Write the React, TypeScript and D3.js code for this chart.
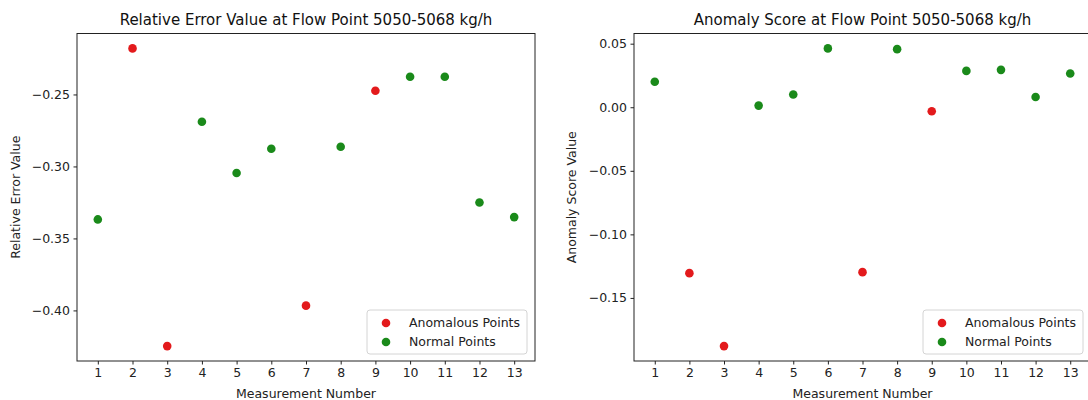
import React, { useRef, useEffect } from 'react';
import * as d3 from 'd3';

const measurements = [1, 2, 3, 4, 5, 6, 7, 8, 9, 10, 11, 12, 13];
const relativeError = [-0.3368, -0.218, -0.4248, -0.269, -0.3046, -0.2877, -0.3967, -0.2863, -0.2474, -0.2377, -0.2377, -0.325, -0.3352];
const anomalyScore = [0.02, -0.1305, -0.1879, 0.0013, 0.01, 0.0463, -0.1297, 0.0457, -0.0032, 0.0286, 0.0294, 0.0081, 0.0266];
const anomalousPoints = [2, 3, 7, 9];
const relErrorTicks = [-0.4, -0.35, -0.3, -0.25];
const scoreTicks = [-0.15, -0.1, -0.05, 0, 0.05];

const RED = '#e31a1c';
const GREEN = '#1a8a1a';
const FONT = '"DejaVu Sans", sans-serif';

type PanelProps = {
  left: number;
  width: number;
  title: string;
  yLabel: string;
  yLabelX: number;
  values: number[];
  yTicks: number[];
};

const Panel = ({ left, width, title, yLabel, yLabelX, values, yTicks }: PanelProps) => {
  const gRef = useRef<SVGGElement>(null);

  useEffect(() => {
    const g = d3.select(gRef.current);
    g.selectAll('*').remove();

    const top = 33.5;
    const bottom = 361;
    const innerHeight = bottom - top;

    const x = d3.scaleLinear().domain([0.4, 13.6]).range([0, width]);
    const [lo, hi] = d3.extent(values) as [number, number];
    const pad = (hi - lo) * 0.05;
    const y = d3.scaleLinear().domain([lo - pad, hi + pad]).range([innerHeight, 0]);

    const plot = g.append('g').attr('transform', `translate(${left},${top})`);

    // points
    const pts = measurements.map((m, i) => ({ m, v: values[i], bad: anomalousPoints.includes(m) }));
    plot.selectAll('circle.pt')
      .data(pts)
      .enter()
      .append('circle')
      .attr('class', 'pt')
      .attr('cx', d => x(d.m))
      .attr('cy', d => y(d.v))
      .attr('r', 4.3)
      .style('fill', d => (d.bad ? RED : GREEN));

    // frame
    plot.append('rect')
      .attr('x', 0).attr('y', 0)
      .attr('width', width).attr('height', innerHeight)
      .style('fill', 'none')
      .style('stroke', '#222')
      .style('stroke-width', 1);

    // x axis
    const xAxis = plot.append('g')
      .attr('transform', `translate(0,${innerHeight})`)
      .call(d3.axisBottom(x).tickValues(measurements).tickFormat(d3.format('d')).tickSize(3.5).tickPadding(3.5));
    xAxis.select('.domain').remove();
    xAxis.selectAll('line').style('stroke', '#222');
    xAxis.selectAll('text')
      .style('font-family', FONT)
      .style('font-size', '12.5px')
      .style('fill', '#222');

    // y axis
    const fmt = (d: number) => d3.format('.2f')(d).replace('-', '\u2212');
    const yAxis = plot.append('g')
      .call(d3.axisLeft(y).tickValues(yTicks).tickFormat(d => fmt(d as number)).tickSize(3.5).tickPadding(3.5));
    yAxis.select('.domain').remove();
    yAxis.selectAll('line').style('stroke', '#222');
    yAxis.selectAll('text')
      .style('font-family', FONT)
      .style('font-size', '12.5px')
      .style('fill', '#222');

    // title
    g.append('text')
      .attr('x', left + width / 2)
      .attr('y', 25)
      .attr('text-anchor', 'middle')
      .style('font-family', FONT)
      .style('font-size', '15px')
      .style('fill', '#111')
      .text(title);

    // x label
    g.append('text')
      .attr('x', left + width / 2)
      .attr('y', 398)
      .attr('text-anchor', 'middle')
      .style('font-family', FONT)
      .style('font-size', '12.5px')
      .style('fill', '#222')
      .text('Measurement Number');

    // y label
    g.append('text')
      .attr('transform', `translate(${yLabelX},${top + innerHeight / 2}) rotate(-90)`)
      .attr('text-anchor', 'middle')
      .attr('dy', '0.35em')
      .style('font-family', FONT)
      .style('font-size', '12.5px')
      .style('fill', '#222')
      .text(yLabel);

    // legend
    const legend = plot.append('g')
      .attr('transform', `translate(${width - 168},${innerHeight - 51})`);
    legend.append('rect')
      .attr('width', 160)
      .attr('height', 44)
      .attr('rx', 3)
      .style('fill', 'rgba(255,255,255,0.8)')
      .style('stroke', '#d4d4d4')
      .style('stroke-width', 1);
    [['Anomalous Points', RED], ['Normal Points', GREEN]].forEach(([label, color], i) => {
      const row = legend.append('g').attr('transform', `translate(0,${13 + i * 19})`);
      row.append('circle').attr('cx', 19).attr('cy', 0).attr('r', 4.3).style('fill', color);
      row.append('text')
        .attr('x', 42)
        .attr('y', 0)
        .attr('dy', '0.35em')
        .style('font-family', FONT)
        .style('font-size', '12.5px')
        .style('fill', '#222')
        .text(label);
    });
  }, [left, width, title, yLabel, yLabelX, values, yTicks]);

  return <g ref={gRef}></g>;
};

export default function App() {
  return (
    <svg width={1088} height={400} style={{ position: 'absolute', left: 0, top: 0, background: 'white' }}>
      <Panel
        left={77}
        width={458}
        title="Relative Error Value at Flow Point 5050-5068 kg/h"
        yLabel="Relative Error Value"
        yLabelX={16}
        values={relativeError}
        yTicks={relErrorTicks}
      />
      <Panel
        left={634}
        width={457}
        title="Anomaly Score at Flow Point 5050-5068 kg/h"
        yLabel="Anomaly Score Value"
        yLabelX={572}
        values={anomalyScore}
        yTicks={scoreTicks}
      />
    </svg>
  );
}
